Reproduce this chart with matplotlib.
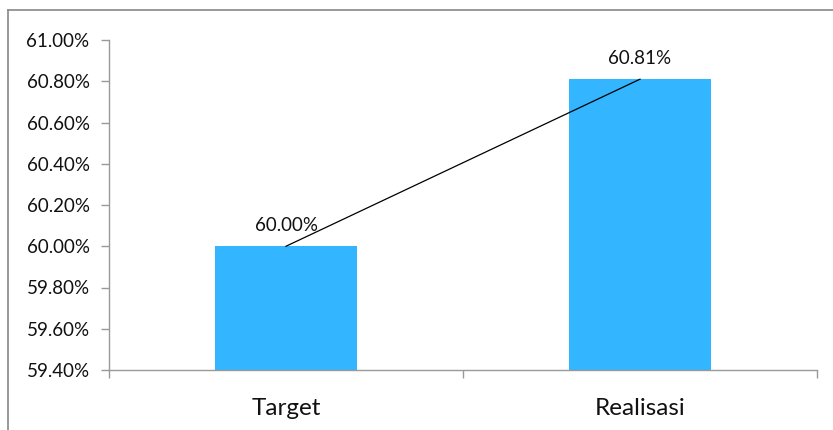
import matplotlib
matplotlib.use("Agg")
import matplotlib.pyplot as plt
from matplotlib.lines import Line2D

categories = ["Target", "Realisasi"]
values = [60.00, 60.81]
value_labels = ["60.00%", "60.81%"]
yticks = [59.40, 59.60, 59.80, 60.00, 60.20, 60.40, 60.60, 60.80, 61.00]

plt.rcParams['font.family'] = ['Lato', 'DejaVu Sans']

fig = plt.figure(figsize=(8.33, 4.30), dpi=100)
W, H = 833, 430
ax = fig.add_axes([109 / W, 1 - 370 / H, (817 - 109) / W, (370 - 40) / H])

x = [0, 1]
ax.bar(x, values, width=0.4, color="#33B5FF", bottom=0, zorder=2)
ax.plot(x, values, color="black", lw=0.9, zorder=3)
for xi, v, lab in zip(x, values, value_labels):
    ax.annotate(lab, (xi, v), xytext=(0, 9), textcoords="offset points",
                ha="center", va="bottom", fontsize=13.5, color="#111111")

ax.set_xlim(-0.5, 1.5)
ax.set_ylim(59.4, 61.0)
ax.set_yticks(yticks)
ax.set_yticklabels([f"{t:.2f}%" for t in yticks], fontsize=13.5, color="#111111")
ax.set_xticks(x)
ax.set_xticklabels(categories, fontsize=17.5, color="#111111")
ax.set_xticks([-0.5, 0.5, 1.5], minor=True)
ax.tick_params(axis="x", which="major", length=0, pad=20)
ax.tick_params(axis="x", which="minor", length=6, color="#999999", width=1)
ax.tick_params(axis="y", length=6, color="#999999", width=1, pad=8)
for s in ["top", "right"]:
    ax.spines[s].set_visible(False)
for s in ["left", "bottom"]:
    ax.spines[s].set_color("#999999")
    ax.spines[s].set_linewidth(1)

# outer chart border (left and top visible)
fig.add_artist(Line2D([8 / W, 8 / W], [0, 1 - 10 / H], color="#888888", lw=1.2, transform=fig.transFigure))
fig.add_artist(Line2D([8 / W, 1], [1 - 10 / H, 1 - 10 / H], color="#888888", lw=1.2, transform=fig.transFigure))

fig.savefig("out.png", dpi=100)
